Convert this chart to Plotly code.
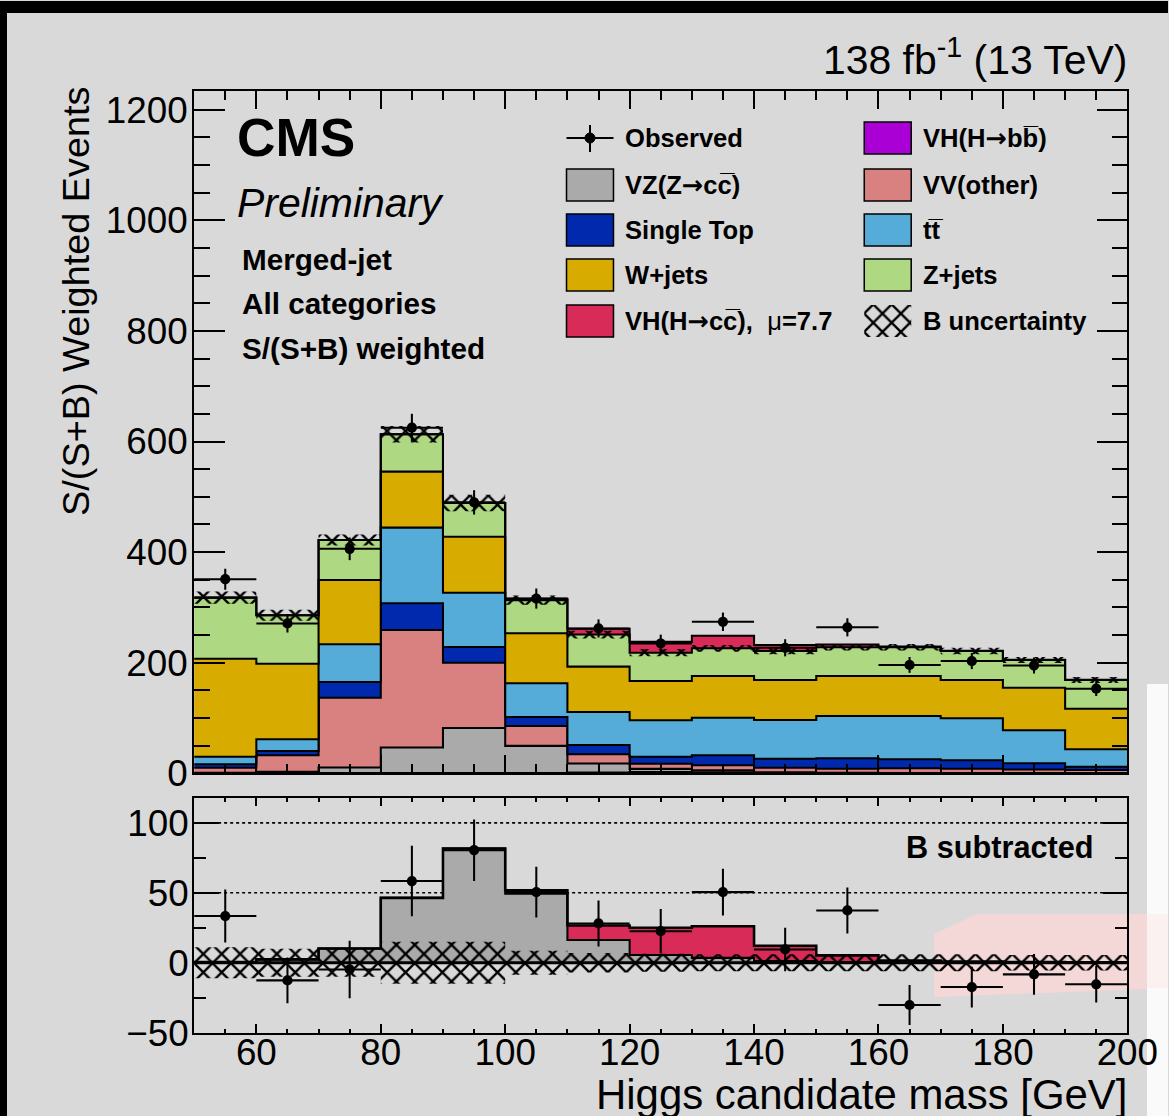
import plotly.graph_objects as go

# reference picture size (all positions below are given in reference pixels)
W, H = 1169, 1116
# page size that the browser actually shows before the photo is taken
FIG_W, FIG_H = 1199, 1138
K = 1.023  # pixel-size compensation for the photo scaling

# ---------------- data ----------------
bin_edges = [50, 60, 70, 80, 90, 100, 110, 120, 130, 140, 150, 160, 170, 180, 190, 200]
bin_centers = [55, 65, 75, 85, 95, 105, 115, 125, 135, 145, 155, 165, 175, 185, 195]

vh_bb      = [0.3, 0.3, 0.3, 0.3, 0.3, 0.3, 1.5, 2.5, 2.0, 0.8, 0.3, 0.3, 0.3, 0.3, 0.3]
vz_cc      = [0.5, 2.4, 10.2, 46.4, 81.7, 49.3, 16.2, 5.5, 3.5, 1.2, 0.5, 0.4, 0.3, 0.3, 0.2]
vv_other   = [9.2, 29.8, 126.3, 212.5, 118.0, 36.0, 16.6, 9.4, 9.0, 8.2, 7.6, 8.3, 7.8, 6.4, 5.5]
single_top = [6.3, 7.8, 28.2, 48.3, 28.5, 16.2, 16.9, 12.6, 18.0, 16.2, 18.7, 16.3, 15.1, 11.0, 6.0]
ttbar      = [13.7, 21.2, 68.3, 136.8, 98.2, 61.0, 59.7, 65.9, 68.1, 70.0, 76.5, 78.3, 76.0, 59.8, 31.4]
w_jets     = [177.3, 136.8, 116.4, 101.3, 101.3, 90.4, 82.0, 71.1, 75.4, 72.4, 72.4, 72.4, 69.3, 77.1, 73.5]
z_jets     = [110.4, 87.5, 72.3, 67.6, 61.0, 60.0, 58.0, 51.2, 50.0, 52.4, 52.0, 52.0, 52.4, 50.1, 51.9]
vh_cc      = [0.0, 0.0, 0.0, 0.0, 0.0, 2.6, 10.5, 19.5, 22.6, 11.0, 4.8, 1.2, 0.5, 0.3, 0.2]

observed     = [351, 271, 406, 625, 490, 316, 262, 235, 274, 227, 264, 196, 203, 195, 153]
observed_err = [19.0, 16.4, 20.5, 25.2, 22.0, 18.2, 16.4, 15.8, 16.7, 15.5, 16.4, 14.3, 14.5, 14.5, 13.0]
observed_bsub = [33.4, -12.6, -4.8, 58.4, 80.5, 50.5, 28.1, 22.6, 50.5, 9.5, 37.4, -30.2, -17.4, -8.3, -15.4]
b_uncert     = [11.0, 10.0, 10.0, 15.0, 15.0, 8.5, 7.0, 6.5, 6.0, 6.0, 6.0, 6.0, 6.0, 5.5, 5.5]

x_ticks_top = [60, 80, 100, 120, 140, 160, 180, 200]
y_ticks_top = [0, 200, 400, 600, 800, 1000, 1200]
y_ticks_bot = [-50, 0, 50, 100]

# ---------------- styles ----------------
FONT = "Liberation Sans"
BG = "#d9d9d9"
C_VHBB = "#aa00d6"
C_VZ = "#aaaaaa"
C_VV = "#d98080"
C_ST = "#0029ae"
C_TT = "#55acd9"
C_W = "#d7ab00"
C_Z = "#aed982"
C_VHCC = "#d92b58"


def fx(px):
    return px / W


def fy(py):
    return 1 - py / H


def k(v):
    return v * K


X0, X1 = 194.3, 1128.3
TOP_Y0, TOP_Y1 = 90.0, 772.3
BOT_Y0, BOT_Y1 = 796.7, 1031.7

fig = go.Figure()


def step(vals):
    return list(vals) + [vals[-1]]


# ---------------- top panel: stacked histogram ----------------
stack = [vh_bb, vz_cc, vv_other, single_top, ttbar, w_jets, z_jets, vh_cc]
stack_cols = [C_VHBB, C_VZ, C_VV, C_ST, C_TT, C_W, C_Z, C_VHCC]
cum = [0.0] * len(bin_centers)
b_total = None
for i, (vals, col) in enumerate(zip(stack, stack_cols)):
    cum = [c + v for c, v in zip(cum, vals)]
    if i == 6:
        b_total = list(cum)
    fig.add_trace(go.Scatter(
        x=bin_edges, y=step(cum), mode="lines",
        line=dict(shape="hv", color="black", width=k(2)),
        fill="tozeroy" if i == 0 else "tonexty", fillcolor=col,
        xaxis="x", yaxis="y", showlegend=False, hoverinfo="skip"))

hatch = dict(shape="x", fgcolor="black", bgcolor="rgba(0,0,0,0)", size=13, solidity=0.33, fgopacity=1)

fig.add_trace(go.Scatter(
    x=bin_edges, y=step([b - u for b, u in zip(b_total, b_uncert)]), mode="lines",
    line=dict(shape="hv", width=0, color="rgba(0,0,0,0)"),
    xaxis="x", yaxis="y", showlegend=False, hoverinfo="skip"))
fig.add_trace(go.Scatter(
    x=bin_edges, y=step([b + u for b, u in zip(b_total, b_uncert)]), mode="lines",
    line=dict(shape="hv", width=0, color="rgba(0,0,0,0)"),
    fill="tonexty", fillcolor="rgba(0,0,0,0)", fillpattern=hatch,
    xaxis="x", yaxis="y", showlegend=False, hoverinfo="skip"))

fig.add_trace(go.Scatter(
    x=bin_centers, y=observed, mode="markers",
    marker=dict(color="black", size=k(10)),
    error_x=dict(type="constant", value=5, width=0, thickness=k(2), color="black"),
    error_y=dict(type="data", array=observed_err, width=0, thickness=k(2), color="black"),
    xaxis="x", yaxis="y", showlegend=False))

# ---------------- bottom panel: B subtracted ----------------
sig_cum = [a + b for a, b in zip(vz_cc, vh_cc)]
fig.add_trace(go.Scatter(
    x=bin_edges, y=step(vz_cc), mode="lines",
    line=dict(shape="hv", color="black", width=k(2)),
    fill="tozeroy", fillcolor=C_VZ,
    xaxis="x2", yaxis="y2", showlegend=False, hoverinfo="skip"))
fig.add_trace(go.Scatter(
    x=bin_edges, y=step(sig_cum), mode="lines",
    line=dict(shape="hv", color="black", width=k(2.5)),
    fill="tonexty", fillcolor=C_VHCC,
    xaxis="x2", yaxis="y2", showlegend=False, hoverinfo="skip"))
fig.add_trace(go.Scatter(
    x=bin_edges, y=step([-u for u in b_uncert]), mode="lines",
    line=dict(shape="hv", width=0, color="rgba(0,0,0,0)"),
    xaxis="x2", yaxis="y2", showlegend=False, hoverinfo="skip"))
fig.add_trace(go.Scatter(
    x=bin_edges, y=step(b_uncert), mode="lines",
    line=dict(shape="hv", width=0, color="rgba(0,0,0,0)"),
    fill="tonexty", fillcolor="rgba(0,0,0,0)", fillpattern=hatch,
    xaxis="x2", yaxis="y2", showlegend=False, hoverinfo="skip"))
fig.add_trace(go.Scatter(
    x=bin_centers, y=observed_bsub, mode="markers",
    marker=dict(color="black", size=k(10)),
    error_x=dict(type="constant", value=5, width=0, thickness=k(2), color="black"),
    error_y=dict(type="data", array=observed_err, width=0, thickness=k(2), color="black"),
    xaxis="x2", yaxis="y2", showlegend=False))

# ---------------- legend hatch swatch (overlay axes in reference pixels) ----------------
fig.add_trace(go.Scatter(
    x=[865, 912, 912, 865, 865], y=[304, 304, 336, 336, 304], mode="lines",
    line=dict(width=0, color="rgba(0,0,0,0)"),
    fill="toself", fillcolor="rgba(0,0,0,0)", fillpattern=hatch,
    xaxis="x3", yaxis="y3", showlegend=False, hoverinfo="skip"))

# ---------------- axes ----------------
axfont = dict(family=FONT, size=k(36), color="black")
common = dict(showline=True, linewidth=k(2), linecolor="black", mirror="allticks",
              ticks="inside", showgrid=False, zeroline=False, tickcolor="black",
              tickwidth=k(1.5), tickfont=axfont)

fig.update_layout(
    xaxis=dict(domain=[fx(X0), fx(X1)], range=[50, 200], anchor="y",
               tickvals=x_ticks_top, ticklen=k(18), showticklabels=False,
               minor=dict(ticks="inside", dtick=5, tick0=50, ticklen=k(9), tickcolor="black", tickwidth=k(1.5)),
               **common),
    yaxis=dict(domain=[fy(TOP_Y1), fy(TOP_Y0)], range=[0, 1234], anchor="x",
               tickvals=y_ticks_top, ticklen=k(30), ticklabelstandoff=-3,
               minor=dict(ticks="inside", dtick=50, tick0=0, ticklen=k(15), tickcolor="black", tickwidth=k(1.5)),
               **common),
    xaxis2=dict(domain=[fx(X0), fx(X1)], range=[50, 200], anchor="y2", matches="x",
                tickvals=x_ticks_top, ticklen=k(8), ticklabelstandoff=-14,
                minor=dict(ticks="inside", dtick=5, tick0=50, ticklen=k(4), tickcolor="black", tickwidth=k(1.5)),
                **common),
    yaxis2=dict(domain=[fy(BOT_Y1), fy(BOT_Y0)], range=[-50, 118], anchor="x2",
                tickvals=y_ticks_bot, ticklen=k(24), ticklabelstandoff=-4,
                minor=dict(ticks="inside", dtick=25, tick0=0, ticklen=k(12), tickcolor="black", tickwidth=k(1.5)),
                **common),
    xaxis3=dict(domain=[0, 1], range=[0, W], anchor="y3", visible=False, fixedrange=True),
    yaxis3=dict(domain=[0, 1], range=[H, 0], anchor="x3", visible=False, fixedrange=True),
    width=FIG_W, height=FIG_H, autosize=False,
    margin=dict(l=0, r=0, t=0, b=0, pad=0),
    paper_bgcolor=BG, plot_bgcolor="rgba(0,0,0,0)",
    showlegend=False,
    font=dict(family=FONT, color="black"),
)

shapes = []
# photo frame artefacts of the reference
shapes.append(dict(type="rect", xref="paper", yref="paper", x0=0, x1=1, y0=fy(12), y1=1,
                   fillcolor="black", line=dict(width=0), layer="below"))
shapes.append(dict(type="rect", xref="paper", yref="paper", x0=0, x1=fx(7), y0=0, y1=1,
                   fillcolor="black", line=dict(width=0), layer="below"))
shapes.append(dict(type="rect", xref="paper", yref="paper", x0=fx(1148), x1=1, y0=0, y1=fy(683),
                   fillcolor="#fafafa", line=dict(width=0), layer="below"))
shapes.append(dict(type="path", xref="paper", yref="paper",
                   path=f"M {fx(935)},{fy(933)} L {fx(978)},{fy(913)} L {fx(1148)},{fy(913)} "
                        f"L {fx(1148)},{fy(988)} L {fx(935)},{fy(996)} Z",
                   fillcolor="#f4d8d8", line=dict(width=0), layer="below"))
shapes.append(dict(type="rect", xref="paper", yref="paper", x0=fx(1148), x1=1, y0=fy(987), y1=fy(913),
                   fillcolor="#fcf1f1", line=dict(width=0), layer="below"))
# dotted reference lines and zero line in lower panel
for yv in (50, 100):
    shapes.append(dict(type="line", xref="x2 domain", yref="y2", x0=0, x1=1, y0=yv, y1=yv,
                       line=dict(color="black", width=k(1.5), dash="dot"), layer="below"))
shapes.append(dict(type="line", xref="x2 domain", yref="y2", x0=0, x1=1, y0=0, y1=0,
                   line=dict(color="black", width=k(3)), layer="above"))

# legend swatches
rows = [137, 184, 229, 274, 320]
left_cols = [None, C_VZ, C_ST, C_W, C_VHCC]
right_cols = [C_VHBB, C_VV, C_TT, C_Z, None]
for yc, lc, rc in zip(rows, left_cols, right_cols):
    if lc:
        shapes.append(dict(type="rect", xref="paper", yref="paper",
                           x0=fx(567), x1=fx(614), y0=fy(yc + 16), y1=fy(yc - 16),
                           fillcolor=lc, line=dict(color="black", width=k(1.5))))
    if rc:
        shapes.append(dict(type="rect", xref="paper", yref="paper",
                           x0=fx(865), x1=fx(912), y0=fy(yc + 16), y1=fy(yc - 16),
                           fillcolor=rc, line=dict(color="black", width=k(1.5))))
# observed legend symbol
shapes.append(dict(type="line", xref="paper", yref="paper", x0=fx(567), x1=fx(614), y0=fy(137), y1=fy(137),
                   line=dict(color="black", width=k(2))))
shapes.append(dict(type="line", xref="paper", yref="paper", x0=fx(590.5), x1=fx(590.5), y0=fy(124), y1=fy(151),
                   line=dict(color="black", width=k(2))))
shapes.append(dict(type="circle", xref="paper", yref="paper", x0=fx(585.5), x1=fx(595.5), y0=fy(142), y1=fy(132),
                   fillcolor="black", line=dict(color="black", width=1)))
fig.update_layout(shapes=shapes)

ann = []


def text(x, y, s, size, xanchor="left", yanchor="middle", angle=0, bold=False, italic=False):
    if bold:
        s = f"<b>{s}</b>"
    if italic:
        s = f"<i>{s}</i>"
    ann.append(dict(x=fx(x), y=fy(y), xref="paper", yref="paper", text=s, showarrow=False,
                    xanchor=xanchor, yanchor=yanchor, textangle=angle,
                    font=dict(family=FONT, size=k(size), color="black")))


ARROW = "<span style='font-family:DejaVu Sans'>\u2192</span>"

text(1130, 56, "138 fb<sup>-1</sup> (13 TeV)", 40, xanchor="right")
text(235, 136, "CMS", 52, bold=True)
text(235, 202, "Preliminary", 40, italic=True)
text(240, 258, "Merged-jet", 29, bold=True)
text(240, 302, "All categories", 29, bold=True)
text(240, 347, "S/(S+B) weighted", 29, bold=True)
text(1097, 846, "B subtracted", 30, xanchor="right", bold=True)
text(76, 300, "S/(S+B) Weighted Events", 37, xanchor="center", angle=-90)
text(1130, 1093, "Higgs candidate mass [GeV]", 41, xanchor="right")

left_labels = ["<b>Observed</b>", f"<b>VZ(Z{ARROW}cc\u0305)</b>", "<b>Single Top</b>", "<b>W+jets</b>",
               f"<b>VH(H{ARROW}cc\u0305),  </b>\u03bc<b>=7.7</b>"]
right_labels = [f"<b>VH(H{ARROW}bb\u0305)</b>", "<b>VV(other)</b>", "<b>tt\u0305</b>", "<b>Z+jets</b>",
                "<b>B uncertainty</b>"]
for yc, ll, rl in zip(rows, left_labels, right_labels):
    text(624, yc, ll, 25)
    text(922, yc, rl, 25)

fig.update_layout(annotations=ann)

fig.write_html(
    "out.html",
    config={"displayModeBar": False},
    post_script="document.documentElement.style.overflow='hidden';"
                "document.body.style.margin='0';document.body.style.overflow='hidden';",
)
